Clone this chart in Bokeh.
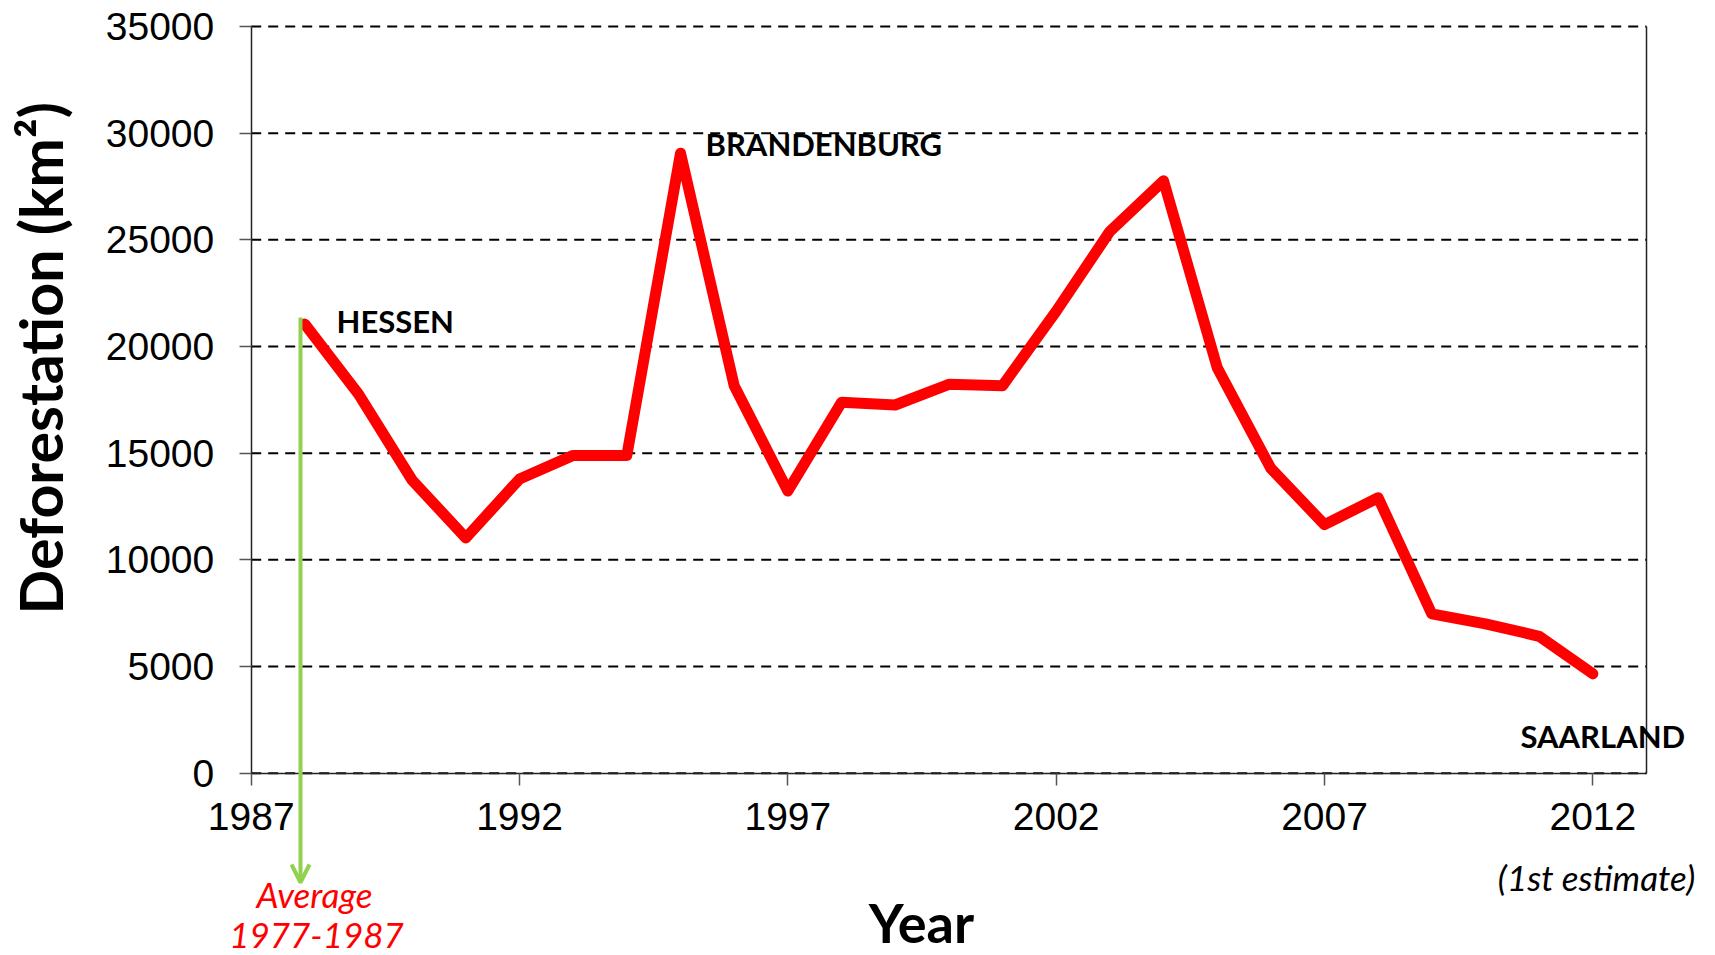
import math
from bokeh.plotting import figure
from bokeh.models import Label, Arrow, OpenHead, FixedTicker, LinearAxis
from bokeh.embed import file_html
from bokeh.resources import INLINE

# ---- data (annual deforestation, km^2) ----
years = [1988, 1989, 1990, 1991, 1992, 1993, 1994, 1995, 1996, 1997, 1998, 1999,
         2000, 2001, 2002, 2003, 2004, 2005, 2006, 2007, 2008, 2009, 2010, 2011, 2012]
deforestation = [21050, 17770, 13730, 11030, 13786, 14896, 14896, 29059, 18161, 13227,
                 17383, 17259, 18226, 18165, 21651, 25396, 27772, 19014, 14286, 11651,
                 12911, 7464, 7000, 6418, 4656]
average_1977_1987 = 21360
x_ticks = [1987, 1992, 1997, 2002, 2007, 2012]
y_ticks = [0, 5000, 10000, 15000, 20000, 25000, 30000, 35000]
x_axis_bounds = (1987, 2013)
y_axis_bounds = (0, 35000)

# ---- canvas geometry (pixels) -> data mapping for annotation placement ----
W, H = 1715, 955
AX_LEFT, AX_RIGHT, AX_TOP, AX_BOTTOM = 250.7, 1646.0, 26.0, 772.7
kx = (AX_RIGHT - AX_LEFT) / (x_axis_bounds[1] - x_axis_bounds[0])
ky = (AX_BOTTOM - AX_TOP) / (y_axis_bounds[1] - y_axis_bounds[0])

def px2x(px):
    return x_axis_bounds[0] + (px - AX_LEFT) / kx

def py2y(py):
    return y_axis_bounds[0] + (AX_BOTTOM - py) / ky

p = figure(width=W, height=H,
           x_range=(px2x(0), px2x(W)), y_range=(py2y(H), py2y(0)),
           x_axis_type=None, y_axis_type=None,
           output_backend="svg", toolbar_location=None, min_border=0)
p.outline_line_color = None
p.background_fill_color = "white"

# dashed horizontal gridlines, limited to the plot box
n = len(y_ticks)
p.segment(x0=[x_axis_bounds[0]] * n, x1=[x_axis_bounds[1]] * n, y0=y_ticks, y1=y_ticks,
          line_color="black", line_width=2, line_dash="10 7")

def style_axis(ax):
    ax.axis_line_color = "#222222"
    ax.axis_line_width = 1.5
    ax.major_tick_line_color = "#555555"
    ax.major_tick_line_width = 1.5
    ax.major_tick_in = 0
    ax.major_tick_out = 12
    ax.minor_tick_line_color = None
    ax.major_label_text_font = "Liberation Sans"
    ax.major_label_text_font_size = "39px"
    ax.major_label_text_color = "black"

xaxis = LinearAxis(fixed_location=y_axis_bounds[0], bounds=x_axis_bounds,
                   ticker=FixedTicker(ticks=x_ticks))
style_axis(xaxis)
xaxis.major_label_standoff = 18
p.add_layout(xaxis, "below")

yaxis = LinearAxis(fixed_location=x_axis_bounds[0], bounds=y_axis_bounds,
                   ticker=FixedTicker(ticks=y_ticks))
style_axis(yaxis)
yaxis.major_label_standoff = 25
p.add_layout(yaxis, "left")

# right border of the plot box
raxis = LinearAxis(fixed_location=x_axis_bounds[1], bounds=y_axis_bounds,
                   ticker=FixedTicker(ticks=[]))
raxis.axis_line_color = "#222222"
raxis.axis_line_width = 1.5
raxis.major_tick_line_color = None
raxis.minor_tick_line_color = None
raxis.major_label_text_font_size = "0px"
p.add_layout(raxis, "right")

# main series
p.line(years, deforestation, line_color="#FF0000", line_width=11,
       line_join="round", line_cap="round")

# green arrow for the 1977-1987 average
arrow_x = px2x(300)
p.add_layout(Arrow(x_start=arrow_x, y_start=average_1977_1987,
                   x_end=arrow_x, y_end=py2y(882),
                   line_color="#92D050", line_width=4,
                   end=OpenHead(size=18, line_color="#92D050", line_width=4)))

def lab(px, py, text, size, style="bold", color="black", align="left"):
    # py is the wanted baseline; compensate for the renderer's baseline offset
    p.add_layout(Label(x=px2x(px), y=py2y(py - 0.32 * size), text=text, text_font="Lato",
                       text_font_size=f"{size}px", text_font_style=style, text_color=color,
                       text_align=align, text_baseline="alphabetic"))

lab(336, 330, "HESSEN", 31)
lab(705, 153, "BRANDENBURG", 31)
lab(1520, 745, "SAARLAND", 31)
lab(314, 905, "Average", 35, style="italic", color="#FF0000", align="center")
lab(316, 946, "1977-1987", 35, style="italic", color="#FF0000", align="center")
lab(1596, 888, "(1st estimate)", 35, style="italic", align="center")
lab(921, 939, "Year", 54, align="center")

# rotated axis title
ysize = 59
p.add_layout(Label(x=px2x(66 - 0.44 * ysize), y=py2y(614), text="Deforestation (km²)",
                   text_font="Lato", text_font_size=f"{ysize}px", text_font_style="bold",
                   text_color="black", text_align="left", text_baseline="alphabetic",
                   angle=math.pi / 2))

open("out.html", "w").write(file_html(p, INLINE))
